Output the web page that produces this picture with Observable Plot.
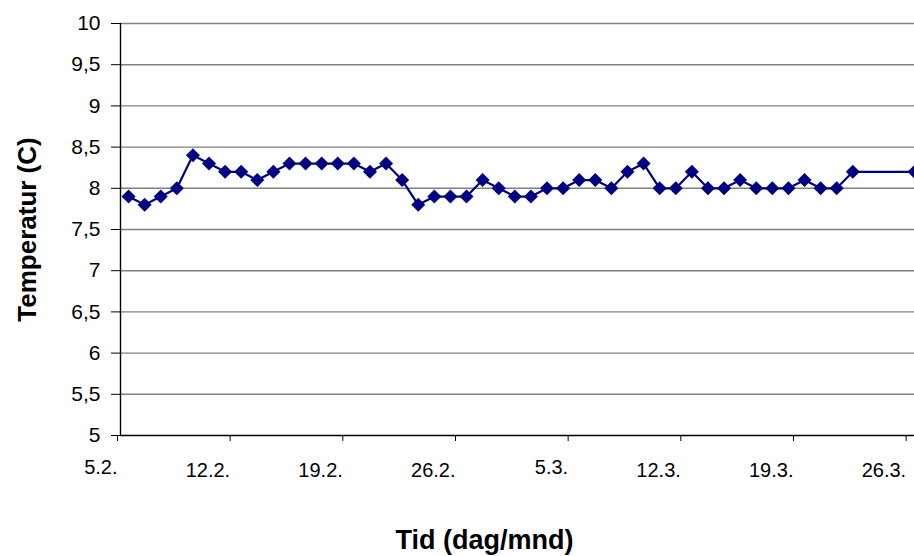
<!DOCTYPE html>
<html>
<head>
<meta charset="utf-8">
<script src="https://cdn.jsdelivr.net/npm/d3@7"></script>
<script src="https://cdn.jsdelivr.net/npm/@observablehq/plot@0.6"></script>
<style>
  html, body { margin: 0; padding: 0; background: #fff; }
  #chart svg { display: block; }
</style>
</head>
<body>
<div id="chart"></div>
<script>
// Measurement times (one reading per day, last reading on 26.3.)
const dates = [
  "2007-02-05T12:00Z","2007-02-06T12:00Z","2007-02-07T12:00Z","2007-02-08T12:00Z","2007-02-09T12:00Z",
  "2007-02-10T12:00Z","2007-02-11T12:00Z","2007-02-12T12:00Z","2007-02-13T12:00Z","2007-02-14T12:00Z",
  "2007-02-15T12:00Z","2007-02-16T12:00Z","2007-02-17T12:00Z","2007-02-18T12:00Z","2007-02-19T12:00Z",
  "2007-02-20T12:00Z","2007-02-21T12:00Z","2007-02-22T12:00Z","2007-02-23T12:00Z","2007-02-24T12:00Z",
  "2007-02-25T12:00Z","2007-02-26T12:00Z","2007-02-27T12:00Z","2007-02-28T12:00Z","2007-03-01T12:00Z",
  "2007-03-02T12:00Z","2007-03-03T12:00Z","2007-03-04T12:00Z","2007-03-05T12:00Z","2007-03-06T12:00Z",
  "2007-03-07T12:00Z","2007-03-08T12:00Z","2007-03-09T12:00Z","2007-03-10T12:00Z","2007-03-11T12:00Z",
  "2007-03-12T12:00Z","2007-03-13T12:00Z","2007-03-14T12:00Z","2007-03-15T12:00Z","2007-03-16T12:00Z",
  "2007-03-17T12:00Z","2007-03-18T12:00Z","2007-03-19T12:00Z","2007-03-20T12:00Z","2007-03-21T12:00Z",
  "2007-03-22T12:00Z","2007-03-26T08:00Z"
];
const temperatures = [
  7.9, 7.8, 7.9, 8.0, 8.4, 8.3, 8.2, 8.2, 8.1, 8.2,
  8.3, 8.3, 8.3, 8.3, 8.3, 8.2, 8.3, 8.1, 7.8, 7.9,
  7.9, 7.9, 8.1, 8.0, 7.9, 7.9, 8.0, 8.0, 8.1, 8.1,
  8.0, 8.2, 8.3, 8.0, 8.0, 8.2, 8.0, 8.0, 8.1, 8.0,
  8.0, 8.0, 8.1, 8.0, 8.0, 8.2, 8.2
];

// x axis ticks
const xTickDates = ["2007-02-05","2007-02-12","2007-02-19","2007-02-26","2007-03-05","2007-03-12","2007-03-19","2007-03-26"];
const xTickLabels = ["5.2.","12.2.","19.2.","26.2.","5.3.","12.3.","19.3.","26.3."];
// y axis ticks
const yTicks = [5, 5.5, 6, 6.5, 7, 7.5, 8, 8.5, 9, 9.5, 10];
const yTickLabels = ["5","5,5","6","6,5","7","7,5","8","8,5","9","9,5","10"];

const xLabel = "Tid (dag/mnd)";
const yLabel = "Temperatur (C)";

const data = dates.map((d, i) => ({date: new Date(d), temp: temperatures[i]}));
const xTicks = xTickDates.map(d => new Date(d + "T00:00Z"));
const labelOf = new Map(xTicks.map((d, i) => [+d, xTickLabels[i]]));
const shortTicks = xTicks.filter((d, i) => xTickLabels[i].length <= 4);
const longTicks = xTicks.filter((d, i) => xTickLabels[i].length > 4);
const yLabelOf = new Map(yTicks.map((v, i) => [v, yTickLabels[i]]));

const chart = Plot.plot({
  width: 914,
  height: 556,
  marginTop: 23,
  marginBottom: 121,
  marginLeft: 120,
  marginRight: 0,
  style: {fontFamily: "'Liberation Sans', Arial, sans-serif", fontSize: "20px", color: "#000", background: "#fff"},
  x: {type: "utc", domain: [xTicks[0], data[data.length - 1].date]},
  y: {domain: [5, 10]},
  marks: [
    Plot.gridY(yTicks.filter(v => v > 5), {stroke: "#808080", strokeOpacity: 1, strokeWidth: 1.4}),
    Plot.axisY({ticks: yTicks, tickFormat: v => yLabelOf.get(v), tickSize: 9, tickPadding: 11, stroke: "#000", label: null, fill: "#000", fontSize: 21}),
    Plot.axisX({ticks: longTicks, tickFormat: d => labelOf.get(+d), tickSize: 6, tickPadding: 21, textAnchor: "end", dx: -3, label: null, fill: "#000", fontSize: 20}),
    Plot.axisX({ticks: shortTicks, tickFormat: d => labelOf.get(+d), tickSize: 6, tickPadding: 18, textAnchor: "end", dx: -3, label: null, fill: "#000", fontSize: 20}),
    Plot.ruleX([xTicks[0]], {stroke: "#000", strokeWidth: 1.4}),
    Plot.ruleY([5], {stroke: "#000", strokeWidth: 1.4}),
    Plot.line(data, {x: "date", y: "temp", stroke: "#000080", strokeWidth: 2.2}),
    Plot.dot(data, {x: "date", y: "temp", symbol: "square", rotate: 45, r: 5.6, fill: "#000080", stroke: "none", clip: true}),
    Plot.text([yLabel], {frameAnchor: "left", textAnchor: "middle", lineAnchor: "middle", rotate: -90, dx: -93, dy: 0, fontWeight: "bold", fontSize: 26, fill: "#000"}),
    Plot.text([xLabel], {frameAnchor: "bottom", textAnchor: "middle", lineAnchor: "middle", dx: -33, dy: 105, fontWeight: "bold", fontSize: 27, fill: "#000"})
  ]
});
document.getElementById("chart").appendChild(chart);
</script>
</body>
</html>
